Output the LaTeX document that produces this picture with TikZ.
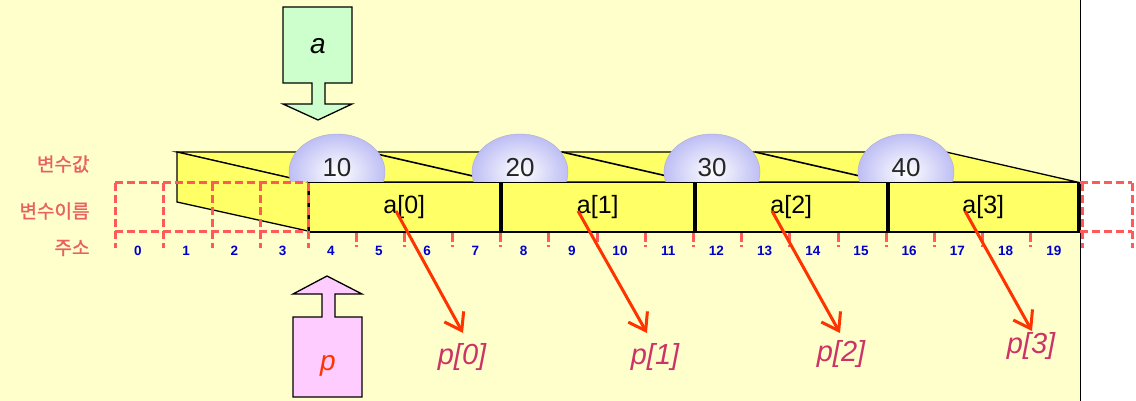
\documentclass[tikz,border=0pt]{standalone}
\usepackage{fontspec}
\setmainfont{Liberation Sans}
\newfontfamily\krfont[FakeBold=1.2]{Noto Sans CJK KR}
\usetikzlibrary{arrows.meta}
\definecolor{bgyel}{RGB}{255,255,204}
\definecolor{cellyel}{RGB}{255,255,102}
\definecolor{dashred}{RGB}{255,90,90}
\definecolor{addrblue}{RGB}{0,0,204}
\definecolor{lblred}{RGB}{232,96,96}
\definecolor{arrred}{RGB}{255,51,0}
\definecolor{pcol}{RGB}{204,51,102}
\definecolor{domecol}{RGB}{190,190,245}
\definecolor{agreen}{RGB}{204,255,204}
\definecolor{ppink}{RGB}{255,204,255}
\begin{document}
\begin{tikzpicture}[x=1pt,y=-1pt,
  cellbox/.style={draw=black,line width=1.5pt,fill=cellyel,minimum height=49pt,anchor=north west,inner sep=0pt,font=\fontsize{25}{25}\selectfont},
  facebox/.style={draw=black,line width=1.3pt,fill=cellyel,line join=miter},
  edge3d/.style={draw=black,line width=1.6pt},
  valtext/.style={font=\fontsize{26}{26}\selectfont,text=black!85},
  addr/.style={font=\bfseries\fontsize{13.5}{13.5}\selectfont,text=addrblue},
  kor/.style={font=\krfont\fontsize{19}{19}\selectfont,text=lblred,anchor=east},
  reddash/.style={draw=dashred,line width=3pt,dash pattern=on 8pt off 4pt},
  redtick/.style={draw=dashred,line width=3pt,dash pattern=on 9pt off 3pt},
  bigarrow/.style={draw=black,line width=1.3pt,line join=miter},
  ptr/.style={draw=arrred,line width=3pt,-{Straight Barb[length=16pt,width=22pt,line width=3pt]}},
  plabel/.style={font=\itshape\fontsize{29}{29}\selectfont,text=pcol}
]
\useasboundingbox (0,0) rectangle (1136,401);
% background
\fill[bgyel] (0,0) rectangle (1080,401);
\fill[white] (1080,0) rectangle (1136,401);
\draw[black,line width=1pt] (1080,0) -- (1080,401);

% top face and left face
\path[facebox] (177,152) -- (946,152) -- (1077,182) -- (308,182) -- cycle;
\path[facebox] (177,152) -- (308,182) -- (308,231) -- (177,202) -- cycle;
\foreach \xr in {499,693,886} \draw[edge3d] ({\xr-131},152) -- (\xr,182);

% front cells
\node[cellbox,minimum width=191pt] (c0) at (308,182) {a[0]};
\node[cellbox,minimum width=192pt] (c1) at (501,182) {a[1]};
\node[cellbox,minimum width=191pt] (c2) at (695,182) {a[2]};
\node[cellbox,minimum width=189pt] (c3) at (888,182) {a[3]};
\draw[black,line width=3pt] (c3.north east) -- (c3.south east);

% domes with values
\foreach \x/\v/\n in {337/10/0,520/20/1,712/30/2,906/40/3}{
  \begin{scope}
    \clip (\x-55,125) rectangle (\x+55,181.2);
    \shade[inner color=white,outer color=domecol] (\x,172) ellipse [x radius=48pt,y radius=38pt];
    \draw[domecol!70!gray,line width=0.4pt] (\x,172) ellipse [x radius=48pt,y radius=38pt];
  \end{scope}
  \node[valtext] (v\n) at (\x,168) {\v};
}

% left dashed address boxes
\draw[reddash] (115,183) -- (308,183);
\draw[reddash] (115,231) -- (308,231);
\foreach \x in {115,163,212,260,308} \draw[reddash] (\x,183) -- (\x,248);
% right dashed box
\draw[reddash] (1080,183) -- (1132,183);
\draw[reddash] (1080,231) -- (1132,231);
\foreach \x in {1082,1132} \draw[reddash] (\x,183) -- (\x,248);
% ticks under cells
\foreach \k in {5,6,7,8,9,10,11,12,13,14,15,16,17,18,19}
  \draw[redtick] ({115+48.2*\k},233) -- ({115+48.2*\k},247);

% addresses
\foreach \i in {0,...,19} \node[addr] (ad\i) at ({138+48.2*\i},251) {\i};

% row labels
\node[kor] (lval) at (93,164) {변수값};
\node[kor] (lname) at (93,211) {변수이름};
\node[kor] (laddr) at (93,248) {주소};

% green arrow a
\path[bigarrow,fill=agreen] (283,7) -- (352,7) -- (352,83) -- (325,83) -- (325,104) -- (352,104) -- (318,120) -- (283,104) -- (312,104) -- (312,83) -- (283,83) -- cycle;
\node[font=\itshape\fontsize{28}{28}\selectfont] (aname) at (318,46) {a};

% pink arrow p
\path[bigarrow,fill=ppink] (293,397) -- (362,397) -- (362,317) -- (335,317) -- (335,294) -- (362,294) -- (327,276) -- (293,294) -- (322,294) -- (322,317) -- (293,317) -- cycle;
\node[font=\itshape\fontsize{28}{28}\selectfont,text=arrred] (pname) at (328,366) {p};

% pointer labels
\node[plabel] (p0) at (462,357) {p[0]};
\node[plabel] (p1) at (655,357) {p[1]};
\node[plabel] (p2) at (841,354) {p[2]};
\node[plabel] (p3) at (1031,346) {p[3]};

% pointer arrows
\coordinate (s0) at (396,211);
\coordinate (s1) at (578,211);
\coordinate (s2) at (772,211);
\coordinate (s3) at (965,211);
\coordinate (t0) at (463,333);
\coordinate (t1) at (647,333);
\coordinate (t2) at (840,333);
\coordinate (t3) at (1032,331);
\foreach \i in {0,1,2,3} \draw[ptr] (s\i) -- (t\i);
\end{tikzpicture}
\end{document}
